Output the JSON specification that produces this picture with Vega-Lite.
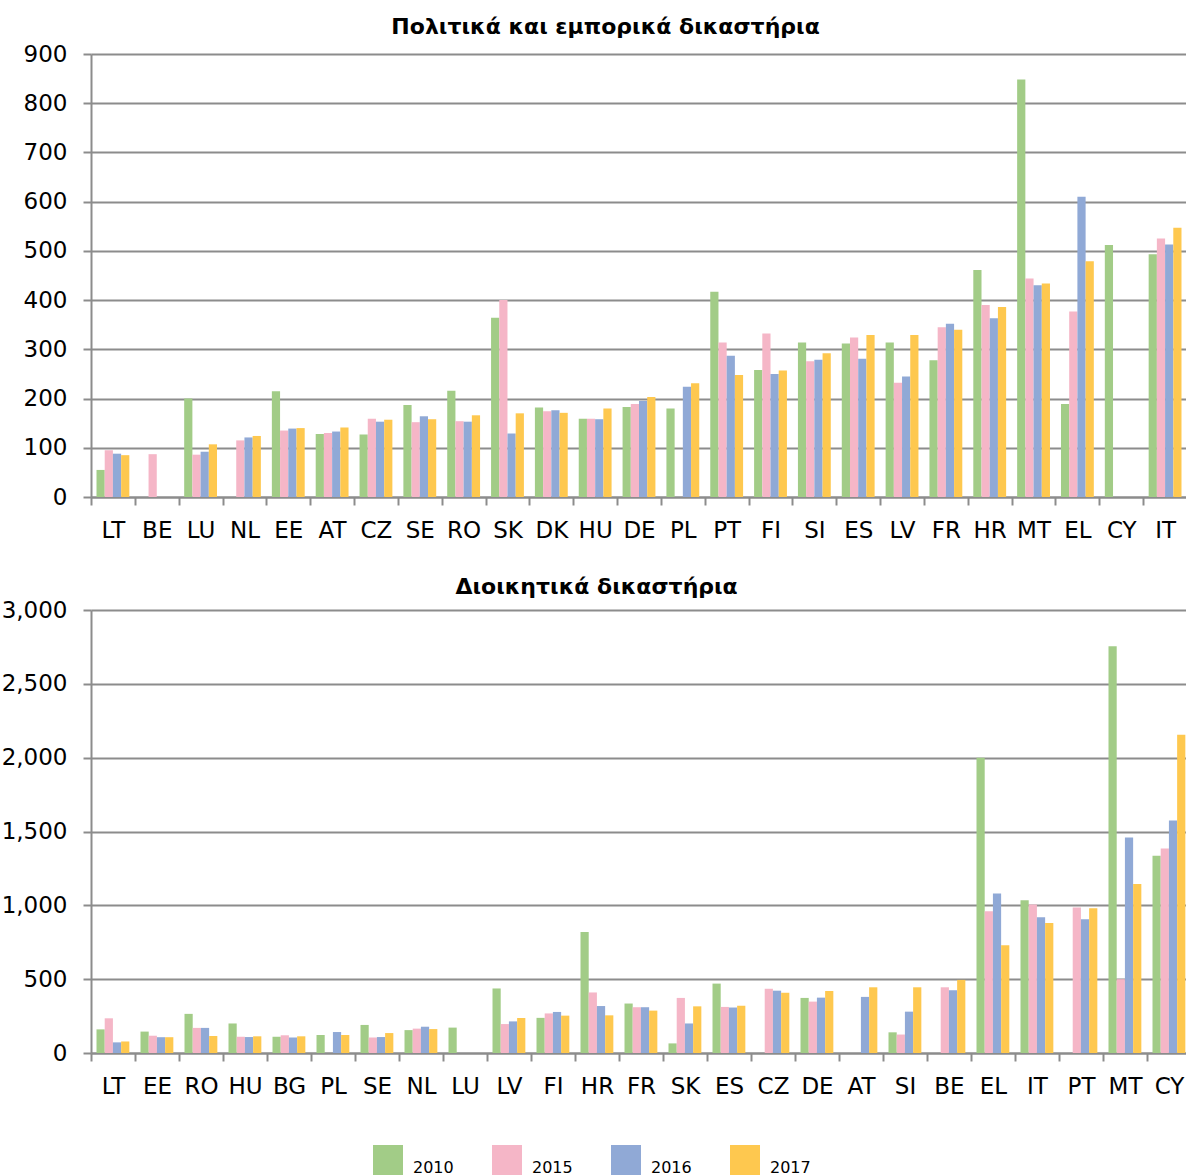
{
  "$schema": "https://vega.github.io/schema/vega-lite/v6.json",
  "background": "white",
  "padding": {"left": 1, "top": 16, "right": 0, "bottom": 0},
  "spacing": 34,
  "columns": 1,
  "align": "none",
  "config": {
    "font": "DejaVu Sans",
    "view": {"stroke": null},
    "axis": {
      "labelFont": "DejaVu Sans",
      "labelColor": "#000000",
      "domainColor": "#8c8c8c",
      "domainWidth": 2,
      "tickColor": "#8c8c8c",
      "tickWidth": 2,
      "tickSize": 8,
      "gridColor": "#8c8c8c",
      "gridWidth": 2,
      "title": null
    },
    "title": {"font": "DejaVu Sans", "fontSize": 22, "fontWeight": "bold", "color": "#000000", "offset": 4, "frame": "bounds", "anchor": "middle"},
    "legend": {
      "title": null,
      "symbolType": "square",
      "symbolSize": 900,
      "symbolStrokeWidth": 0,
      "labelFontSize": 16,
      "labelColor": "#000000",
      "labelBaseline": "top",
      "labelOffset": 10,
      "columnPadding": 38,
      "padding": 0
    }
  },
  "datasets": {
    "civil": [
      {"c": "LT", "y": "2010", "v": 55}, {"c": "LT", "y": "2015", "v": 95}, {"c": "LT", "y": "2016", "v": 88}, {"c": "LT", "y": "2017", "v": 85},
      {"c": "BE", "y": "2015", "v": 87},
      {"c": "LU", "y": "2010", "v": 200}, {"c": "LU", "y": "2015", "v": 86}, {"c": "LU", "y": "2016", "v": 92}, {"c": "LU", "y": "2017", "v": 107},
      {"c": "NL", "y": "2015", "v": 115}, {"c": "NL", "y": "2016", "v": 121}, {"c": "NL", "y": "2017", "v": 124},
      {"c": "EE", "y": "2010", "v": 215}, {"c": "EE", "y": "2015", "v": 135}, {"c": "EE", "y": "2016", "v": 139}, {"c": "EE", "y": "2017", "v": 140},
      {"c": "AT", "y": "2010", "v": 128}, {"c": "AT", "y": "2015", "v": 130}, {"c": "AT", "y": "2016", "v": 133}, {"c": "AT", "y": "2017", "v": 141},
      {"c": "CZ", "y": "2010", "v": 127}, {"c": "CZ", "y": "2015", "v": 159}, {"c": "CZ", "y": "2016", "v": 153}, {"c": "CZ", "y": "2017", "v": 157},
      {"c": "SE", "y": "2010", "v": 187}, {"c": "SE", "y": "2015", "v": 152}, {"c": "SE", "y": "2016", "v": 164}, {"c": "SE", "y": "2017", "v": 158},
      {"c": "RO", "y": "2010", "v": 216}, {"c": "RO", "y": "2015", "v": 154}, {"c": "RO", "y": "2016", "v": 153}, {"c": "RO", "y": "2017", "v": 166},
      {"c": "SK", "y": "2010", "v": 364}, {"c": "SK", "y": "2015", "v": 400}, {"c": "SK", "y": "2016", "v": 129}, {"c": "SK", "y": "2017", "v": 170},
      {"c": "DK", "y": "2010", "v": 182}, {"c": "DK", "y": "2015", "v": 174}, {"c": "DK", "y": "2016", "v": 176}, {"c": "DK", "y": "2017", "v": 171},
      {"c": "HU", "y": "2010", "v": 159}, {"c": "HU", "y": "2015", "v": 159}, {"c": "HU", "y": "2016", "v": 158}, {"c": "HU", "y": "2017", "v": 180},
      {"c": "DE", "y": "2010", "v": 183}, {"c": "DE", "y": "2015", "v": 189}, {"c": "DE", "y": "2016", "v": 195}, {"c": "DE", "y": "2017", "v": 203},
      {"c": "PL", "y": "2010", "v": 180}, {"c": "PL", "y": "2016", "v": 224}, {"c": "PL", "y": "2017", "v": 231},
      {"c": "PT", "y": "2010", "v": 417}, {"c": "PT", "y": "2015", "v": 314}, {"c": "PT", "y": "2016", "v": 287}, {"c": "PT", "y": "2017", "v": 248},
      {"c": "FI", "y": "2010", "v": 258}, {"c": "FI", "y": "2015", "v": 332}, {"c": "FI", "y": "2016", "v": 250}, {"c": "FI", "y": "2017", "v": 257},
      {"c": "SI", "y": "2010", "v": 314}, {"c": "SI", "y": "2015", "v": 276}, {"c": "SI", "y": "2016", "v": 279}, {"c": "SI", "y": "2017", "v": 292},
      {"c": "ES", "y": "2010", "v": 312}, {"c": "ES", "y": "2015", "v": 324}, {"c": "ES", "y": "2016", "v": 281}, {"c": "ES", "y": "2017", "v": 329},
      {"c": "LV", "y": "2010", "v": 314}, {"c": "LV", "y": "2015", "v": 232}, {"c": "LV", "y": "2016", "v": 245}, {"c": "LV", "y": "2017", "v": 329},
      {"c": "FR", "y": "2010", "v": 278}, {"c": "FR", "y": "2015", "v": 345}, {"c": "FR", "y": "2016", "v": 352}, {"c": "FR", "y": "2017", "v": 340},
      {"c": "HR", "y": "2010", "v": 461}, {"c": "HR", "y": "2015", "v": 390}, {"c": "HR", "y": "2016", "v": 363}, {"c": "HR", "y": "2017", "v": 386},
      {"c": "MT", "y": "2010", "v": 848}, {"c": "MT", "y": "2015", "v": 444}, {"c": "MT", "y": "2016", "v": 430}, {"c": "MT", "y": "2017", "v": 434},
      {"c": "EL", "y": "2010", "v": 189}, {"c": "EL", "y": "2015", "v": 377}, {"c": "EL", "y": "2016", "v": 610}, {"c": "EL", "y": "2017", "v": 479},
      {"c": "CY", "y": "2010", "v": 512},
      {"c": "IT", "y": "2010", "v": 493}, {"c": "IT", "y": "2015", "v": 525}, {"c": "IT", "y": "2016", "v": 513}, {"c": "IT", "y": "2017", "v": 547}
    ],
    "admin": [
      {"c": "LT", "y": "2010", "v": 160}, {"c": "LT", "y": "2015", "v": 235}, {"c": "LT", "y": "2016", "v": 72}, {"c": "LT", "y": "2017", "v": 78},
      {"c": "EE", "y": "2010", "v": 145}, {"c": "EE", "y": "2015", "v": 117}, {"c": "EE", "y": "2016", "v": 107}, {"c": "EE", "y": "2017", "v": 107},
      {"c": "RO", "y": "2010", "v": 265}, {"c": "RO", "y": "2015", "v": 170}, {"c": "RO", "y": "2016", "v": 170}, {"c": "RO", "y": "2017", "v": 115},
      {"c": "HU", "y": "2010", "v": 200}, {"c": "HU", "y": "2015", "v": 110}, {"c": "HU", "y": "2016", "v": 108}, {"c": "HU", "y": "2017", "v": 113},
      {"c": "BG", "y": "2010", "v": 110}, {"c": "BG", "y": "2015", "v": 120}, {"c": "BG", "y": "2016", "v": 105}, {"c": "BG", "y": "2017", "v": 113},
      {"c": "PL", "y": "2010", "v": 122}, {"c": "PL", "y": "2016", "v": 142}, {"c": "PL", "y": "2017", "v": 122},
      {"c": "SE", "y": "2010", "v": 190}, {"c": "SE", "y": "2015", "v": 105}, {"c": "SE", "y": "2016", "v": 108}, {"c": "SE", "y": "2017", "v": 135},
      {"c": "NL", "y": "2010", "v": 155}, {"c": "NL", "y": "2015", "v": 165}, {"c": "NL", "y": "2016", "v": 178}, {"c": "NL", "y": "2017", "v": 162},
      {"c": "LU", "y": "2010", "v": 172},
      {"c": "LV", "y": "2010", "v": 437}, {"c": "LV", "y": "2015", "v": 196}, {"c": "LV", "y": "2016", "v": 214}, {"c": "LV", "y": "2017", "v": 237},
      {"c": "FI", "y": "2010", "v": 238}, {"c": "FI", "y": "2015", "v": 268}, {"c": "FI", "y": "2016", "v": 278}, {"c": "FI", "y": "2017", "v": 253},
      {"c": "HR", "y": "2010", "v": 820}, {"c": "HR", "y": "2015", "v": 410}, {"c": "HR", "y": "2016", "v": 318}, {"c": "HR", "y": "2017", "v": 255},
      {"c": "FR", "y": "2010", "v": 335}, {"c": "FR", "y": "2015", "v": 310}, {"c": "FR", "y": "2016", "v": 310}, {"c": "FR", "y": "2017", "v": 287},
      {"c": "SK", "y": "2010", "v": 65}, {"c": "SK", "y": "2015", "v": 373}, {"c": "SK", "y": "2016", "v": 200}, {"c": "SK", "y": "2017", "v": 316},
      {"c": "ES", "y": "2010", "v": 470}, {"c": "ES", "y": "2015", "v": 312}, {"c": "ES", "y": "2016", "v": 308}, {"c": "ES", "y": "2017", "v": 320},
      {"c": "CZ", "y": "2015", "v": 435}, {"c": "CZ", "y": "2016", "v": 422}, {"c": "CZ", "y": "2017", "v": 408},
      {"c": "DE", "y": "2010", "v": 373}, {"c": "DE", "y": "2015", "v": 348}, {"c": "DE", "y": "2016", "v": 375}, {"c": "DE", "y": "2017", "v": 420},
      {"c": "AT", "y": "2016", "v": 380}, {"c": "AT", "y": "2017", "v": 445},
      {"c": "SI", "y": "2010", "v": 140}, {"c": "SI", "y": "2015", "v": 125}, {"c": "SI", "y": "2016", "v": 280}, {"c": "SI", "y": "2017", "v": 445},
      {"c": "BE", "y": "2015", "v": 445}, {"c": "BE", "y": "2016", "v": 425}, {"c": "BE", "y": "2017", "v": 495},
      {"c": "EL", "y": "2010", "v": 2000}, {"c": "EL", "y": "2015", "v": 960}, {"c": "EL", "y": "2016", "v": 1080}, {"c": "EL", "y": "2017", "v": 730},
      {"c": "IT", "y": "2010", "v": 1035}, {"c": "IT", "y": "2015", "v": 1005}, {"c": "IT", "y": "2016", "v": 920}, {"c": "IT", "y": "2017", "v": 880},
      {"c": "PT", "y": "2015", "v": 985}, {"c": "PT", "y": "2016", "v": 905}, {"c": "PT", "y": "2017", "v": 980},
      {"c": "MT", "y": "2010", "v": 2755}, {"c": "MT", "y": "2015", "v": 500}, {"c": "MT", "y": "2016", "v": 1460}, {"c": "MT", "y": "2017", "v": 1145},
      {"c": "CY", "y": "2010", "v": 1335}, {"c": "CY", "y": "2015", "v": 1385}, {"c": "CY", "y": "2016", "v": 1575}, {"c": "CY", "y": "2017", "v": 2155}
    ]
  },
  "concat": [
    {
      "title": "Πολιτικά και εμπορικά δικαστήρια",
      "width": 1096,
      "height": 443,
      "data": {"name": "civil"},
      "mark": {"type": "bar"},
      "encoding": {
        "x": {
          "field": "c", "type": "nominal",
          "sort": ["LT","BE","LU","NL","EE","AT","CZ","SE","RO","SK","DK","HU","DE","PL","PT","FI","SI","ES","LV","FR","HR","MT","EL","CY","IT"],
          "scale": {"paddingInner": 0, "paddingOuter": 0},
          "axis": {"labelAngle": 0, "tickBand": "extent", "labelPadding": 14, "labelFontSize": 23, "grid": false}
        },
        "xOffset": {"field": "y", "type": "nominal", "scale": {"paddingInner": 0, "paddingOuter": 0.67}},
        "y": {
          "field": "v", "type": "quantitative",
          "scale": {"domain": [0, 900], "nice": false},
          "axis": {"values": [0,100,200,300,400,500,600,700,800,900], "labelPadding": 16, "labelFontSize": 23, "grid": true}
        },
        "color": {
          "field": "y", "type": "nominal",
          "scale": {"domain": ["2010","2015","2016","2017"], "range": ["#a2cc87","#f5b6c7","#90a9d6","#fec84f"]},
          "legend": {"orient": "none", "direction": "horizontal", "legendX": 282, "legendY": 1091}
        }
      }
    },
    {
      "title": {"text": "Διοικητικά δικαστήρια", "offset": 0},
      "width": 1100,
      "height": 443,
      "data": {"name": "admin"},
      "mark": {"type": "bar"},
      "encoding": {
        "x": {
          "field": "c", "type": "nominal",
          "sort": ["LT","EE","RO","HU","BG","PL","SE","NL","LU","LV","FI","HR","FR","SK","ES","CZ","DE","AT","SI","BE","EL","IT","PT","MT","CY"],
          "scale": {"paddingInner": 0, "paddingOuter": 0},
          "axis": {"labelAngle": 0, "tickBand": "extent", "labelPadding": 14, "labelFontSize": 23, "grid": false}
        },
        "xOffset": {"field": "y", "type": "nominal", "scale": {"paddingInner": 0, "paddingOuter": 0.67}},
        "y": {
          "field": "v", "type": "quantitative",
          "scale": {"domain": [0, 3000], "nice": false},
          "axis": {"values": [0,500,1000,1500,2000,2500,3000], "format": ",.0f", "labelPadding": 16, "labelFontSize": 23, "grid": true}
        },
        "color": {
          "field": "y", "type": "nominal",
          "scale": {"domain": ["2010","2015","2016","2017"], "range": ["#a2cc87","#f5b6c7","#90a9d6","#fec84f"]},
          "legend": {"orient": "none", "direction": "horizontal", "legendX": 282, "legendY": 1091}
        }
      }
    }
  ]
}
